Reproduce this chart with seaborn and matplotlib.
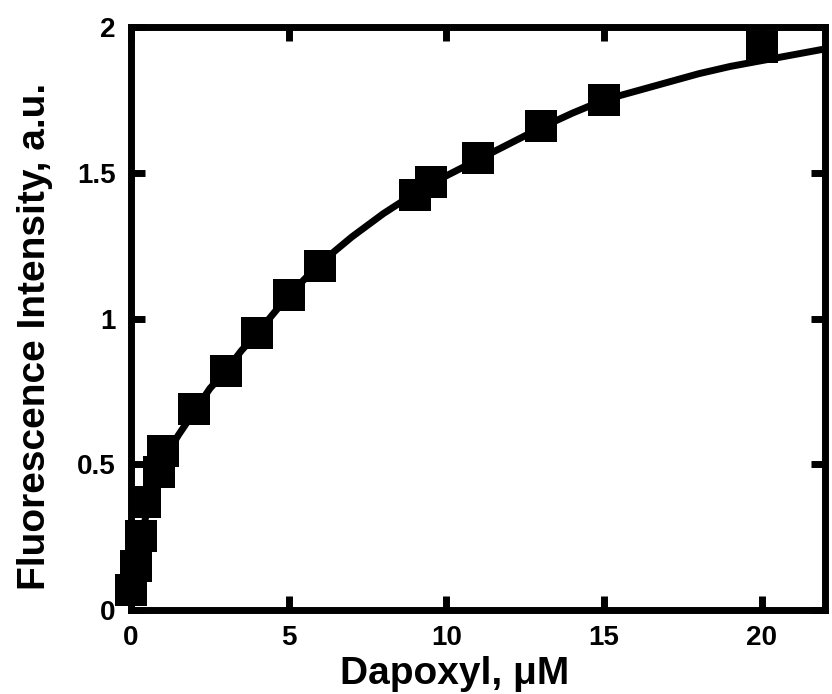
import pandas as pd
import matplotlib
matplotlib.use('Agg')
import matplotlib.pyplot as plt
import seaborn as sns

# measured points (Dapoxyl concentration in uM, fluorescence in a.u.)
conc = [0.0, 0.15, 0.3, 0.45, 0.9, 1.0, 2, 3, 4, 5, 6, 9, 9.5, 11, 13, 15, 20]
fluor = [0.07, 0.15, 0.255, 0.37, 0.475, 0.545, 0.69, 0.82, 0.95, 1.08, 1.18,
         1.425, 1.47, 1.55, 1.66, 1.75, 1.93]

# fitted curve
fit_x = [0, 0.25, 0.5, 0.75, 1.0, 1.5, 2, 2.5, 3, 3.5, 4, 5, 6, 7, 8, 9, 10,
         11, 12, 13, 14, 15, 16, 17, 18, 19, 20, 21, 22]
fit_y = [0, 0.2, 0.34, 0.44, 0.51, 0.6, 0.68, 0.76, 0.82, 0.89, 0.95, 1.08,
         1.19, 1.28, 1.36, 1.43, 1.49, 1.545, 1.6, 1.655, 1.705, 1.75, 1.78,
         1.81, 1.84, 1.865, 1.885, 1.905, 1.925]

x_ticks = [0, 5, 10, 15, 20]
y_ticks = [0, 0.5, 1, 1.5, 2]
y_tick_labels = ['0', '0.5', '1', '1.5', '2']

pts = pd.DataFrame({'conc': conc, 'fluor': fluor})
fit = pd.DataFrame({'x': fit_x, 'y': fit_y})

sns.set_style('ticks')
plt.rcParams['font.family'] = ['Liberation Sans', 'DejaVu Sans']
plt.rcParams['font.weight'] = 'bold'
plt.rcParams['text.color'] = 'black'
plt.rcParams['axes.labelcolor'] = 'black'

fig = plt.figure(figsize=(8.32, 6.94), dpi=100)
ax = fig.add_axes([0.1575, 0.121, 0.834, 0.840])

sns.lineplot(data=fit, x='x', y='y', ax=ax, color='black', linewidth=5,
             sort=True, zorder=2)
sns.scatterplot(data=pts, x='conc', y='fluor', ax=ax, marker='s', s=560,
                color='black', linewidth=0, clip_on=False, zorder=3)

ax.set_xlim(0, 22)
ax.set_ylim(0, 2)
ax.set_xticks(x_ticks)
ax.set_yticks(y_ticks)
ax.set_yticklabels(y_tick_labels)

for sp in ax.spines.values():
    sp.set_linewidth(5)
    sp.set_color('black')
    sp.set_visible(True)

ax.tick_params(direction='in', length=10, width=5, top=True, right=True,
               labelsize=20, pad=11, colors='black', labelcolor='black')
for lab in ax.get_xticklabels() + ax.get_yticklabels():
    lab.set_fontweight('bold')

ax.set_xlabel('Dapoxyl, \u03bcM', fontsize=28, fontweight='bold', color='black')
ax.set_ylabel('Fluorescence Intensity, a.u.', fontsize=28, fontweight='bold',
              color='black')
ax.xaxis.set_label_coords(0.466, -0.079)
ax.yaxis.set_label_coords(-0.112, 0.47)

fig.savefig('out.png', dpi=100)
